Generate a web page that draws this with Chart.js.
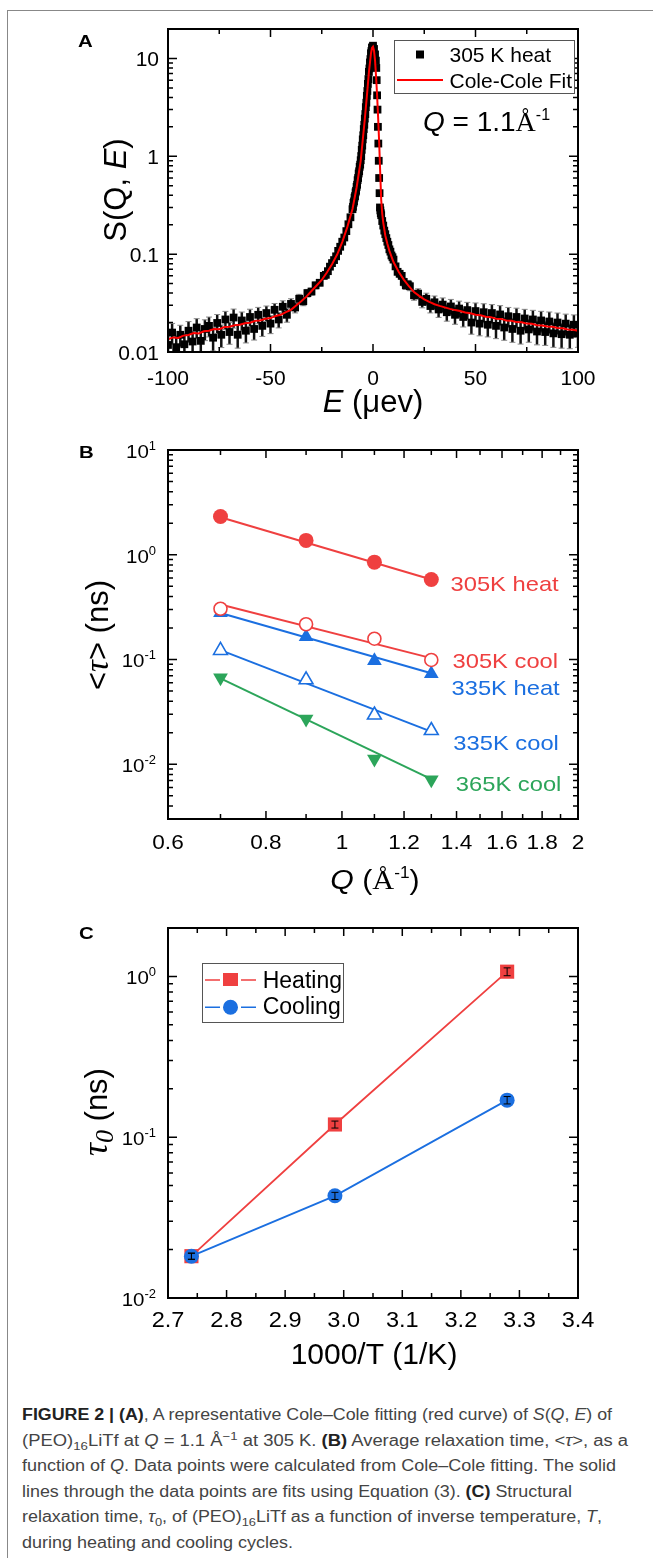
<!DOCTYPE html>
<html>
<head>
<meta charset="utf-8">
<script src="https://cdn.jsdelivr.net/npm/chart.js@4.4.1/dist/chart.umd.min.js"></script>
<style>
  body { margin: 0; background: #fff; width: 657px; height: 1558px; position: relative; overflow: hidden; }
  canvas { position: absolute; left: 0; }
  #lineL { position: absolute; left: 7px; top: 10px; width: 1px; height: 1548px; background: #888; }
  #lineT { position: absolute; left: 7px; top: 10px; width: 646px; height: 1px; background: #888; }
  #caption { position: absolute; left: 22px; top: 1402px; font: 16px 'Liberation Sans', Arial, sans-serif; line-height: 25.5px; color: #444; }
  #caption .ln { display: block; width: max-content; white-space: nowrap; transform-origin: 0 0; }
  #caption b { color: #222; }
  #caption sub, #caption sup { font-size: 0.72em; line-height: 0; }
</style>
</head>
<body>
<div id="lineL"></div>
<div id="lineT"></div>
<canvas id="chartA" width="657" height="430" style="top:0"></canvas>
<canvas id="chartB" width="657" height="480" style="top:430px"></canvas>
<canvas id="chartC" width="657" height="480" style="top:910px"></canvas>
<div id="caption">
  <span class="ln"><b>FIGURE 2 | (A)</b>, A representative Cole–Cole fitting (red curve) of <i>S</i>(<i>Q</i>, <i>E</i>) of</span>
  <span class="ln">(PEO)<sub>16</sub>LiTf at <i>Q</i> = 1.1 Å<sup>−1</sup> at 305 K. <b>(B)</b> Average relaxation time, &lt;<i>τ</i>&gt;, as a</span>
  <span class="ln">function of <i>Q</i>. Data points were calculated from Cole–Cole fitting. The solid</span>
  <span class="ln">lines through the data points are fits using Equation (3). <b>(C)</b> Structural</span>
  <span class="ln">relaxation time, <i>τ</i><sub>0</sub>, of (PEO)<sub>16</sub>LiTf as a function of inverse temperature, <i>T</i>,</span>
  <span class="ln">during heating and cooling cycles.</span>
</div>
<script>
// ---------- panel A: S(Q,E) at Q = 1.1 1/A, 305 K heat ----------
const specE = [
  -100, -98, -96, -94, -92, -90, -88, -86, -84, -82, -80, -78, -76, -74, -72, -70, -68, -66, -64, -62,
  -60, -58, -56, -54, -52, -50, -48, -46, -44, -42, -40, -38, -36, -34, -32, -30, -28, -26,
  -24, -23, -22, -21, -20, -19, -18, -17, -16, -15, -14, -13, -12, -11, -10,
  -9.75, -9.5, -9.25, -9, -8.75, -8.5, -8.25, -8, -7.75, -7.5, -7.25, -7, -6.75, -6.5, -6.25, -6,
  -5.75, -5.5, -5.25, -5, -4.75, -4.5, -4.25, -4, -3.75, -3.5, -3.25, -3, -2.75, -2.5, -2.25, -2,
  -1.75, -1.5, -1.25, -1, -0.75, -0.5, -0.25, 0, 0.5, 1,
  1.4, 1.6, 1.8, 2.0, 2.2, 2.4, 2.6, 2.8, 3.0, 3.2, 3.4,
  3.6, 3.8, 4, 4.5, 5, 5.5, 6, 6.5, 7, 7.5, 8, 8.5, 9, 9.5,
  10, 11, 12, 13, 14, 15, 16, 17,
  18, 20, 22, 24, 26, 28, 30, 32, 34, 36, 38, 40, 42, 44, 46, 48, 50, 52, 54, 56,
  58, 60, 62, 64, 66, 68, 70, 72, 74, 76, 78, 80, 82, 84, 86, 88, 90, 92, 94, 96, 98, 100
];
const specS = [
  0.0118, 0.0158, 0.0112, 0.0150, 0.0120, 0.0165, 0.0128, 0.0178, 0.0130, 0.0172, 0.0185, 0.0140, 0.0198, 0.0150, 0.0215, 0.0160, 0.0225, 0.0150, 0.0210, 0.0165,
  0.0228, 0.0172, 0.0240, 0.0185, 0.0250, 0.0195, 0.0270, 0.0215, 0.0290, 0.0240, 0.0310, 0.0285, 0.0350, 0.0330, 0.0400, 0.0415, 0.0480, 0.0510,
  0.0600, 0.0615, 0.0670, 0.0745, 0.0810, 0.0870, 0.0950, 0.108, 0.119, 0.134, 0.148, 0.172, 0.202, 0.238, 0.288,
  0.305, 0.334, 0.346, 0.378, 0.392, 0.428, 0.444, 0.487, 0.512, 0.570, 0.600, 0.667, 0.703, 0.781, 0.822, 0.912,
  1.005, 1.165, 1.285, 1.49, 1.64, 1.90, 2.10, 2.43, 2.70, 3.18, 3.53, 4.15, 4.65, 5.50, 6.15, 7.30,
  7.90, 9.10, 9.85, 11.3, 11.9, 12.9, 13.0, 13.5, 12.5, 11.0,
  9.5, 8.0, 6.0, 4.2, 3.0, 2.0, 1.35, 0.90, 0.60, 0.42, 0.30,
  0.280, 0.262, 0.250, 0.218, 0.196, 0.174, 0.160, 0.146, 0.134, 0.124, 0.112, 0.106, 0.097, 0.093,
  0.088, 0.075, 0.066, 0.063, 0.060, 0.052, 0.048, 0.049,
  0.047, 0.038, 0.0395, 0.0325, 0.0350, 0.0295, 0.0322, 0.0272, 0.0305, 0.0255, 0.0292, 0.0240, 0.0278, 0.0228, 0.0268, 0.0200, 0.0262, 0.0195, 0.0255, 0.0190,
  0.0250, 0.0185, 0.0242, 0.0178, 0.0232, 0.0172, 0.0228, 0.0165, 0.0220, 0.0170, 0.0215, 0.0162, 0.0210, 0.0160, 0.0205, 0.0155, 0.0200, 0.0152, 0.0195, 0.0150, 0.0190, 0.0155
];
// relative error of each point
const specErr = [
  0.28, 0.24, 0.30, 0.25, 0.28, 0.24, 0.27, 0.23, 0.28, 0.24, 0.23, 0.27, 0.22, 0.26, 0.21, 0.25, 0.22, 0.27, 0.22, 0.25,
  0.20, 0.23, 0.19, 0.22, 0.18, 0.21, 0.16, 0.18, 0.15, 0.16, 0.13, 0.12, 0.11, 0.10, 0.09, 0.08, 0.08, 0.07,
  0.07, 0.07, 0.06, 0.06, 0.06, 0.05, 0.05, 0.05, 0.05, 0.05, 0.05, 0.04, 0.04, 0.04, 0.04,
  0.03, 0.03, 0.03, 0.03, 0.03, 0.03, 0.03, 0.03, 0.03, 0.03, 0.03, 0.03, 0.03, 0.03, 0.03, 0.03,
  0.03, 0.03, 0.03, 0.03, 0.03, 0.03, 0.03, 0.03, 0.03, 0.03, 0.03, 0.03, 0.03, 0.03, 0.03, 0.03,
  0.03, 0.03, 0.03, 0.03, 0.03, 0.03, 0.03, 0.03, 0.03, 0.03,
  0.03, 0.03, 0.03, 0.03, 0.03, 0.03, 0.03, 0.03, 0.03, 0.03, 0.03,
  0.04, 0.04, 0.04, 0.04, 0.04, 0.05, 0.05, 0.05, 0.05, 0.06, 0.06, 0.06, 0.06, 0.06,
  0.07, 0.07, 0.07, 0.08, 0.08, 0.09, 0.09, 0.10,
  0.10, 0.11, 0.12, 0.13, 0.14, 0.15, 0.16, 0.17, 0.17, 0.19, 0.18, 0.20, 0.19, 0.21, 0.20, 0.24, 0.21, 0.25, 0.22, 0.25,
  0.22, 0.26, 0.23, 0.26, 0.23, 0.27, 0.23, 0.27, 0.24, 0.26, 0.24, 0.27, 0.24, 0.27, 0.25, 0.28, 0.25, 0.28, 0.25, 0.28, 0.26, 0.28
];
const fitE = [
  -100, -97.5, -95, -92.5, -90, -87.5, -85, -82.5, -80, -77.5, -75, -72.5, -70, -67.5, -65, -62.5, -60, -57.5, -55, -52.5,
  -50, -47.5, -45, -42.5, -40, -37.5, -35, -32.5, -30, -27.5, -25, -22.5, -20, -17.5, -15, -12.5, -10, -8, -6, -4,
  -3, -2, -1, -0.5, 0, 0.5, 1, 1.5, 2, 2.5, 3, 3.5, 4, 4.5, 5, 6, 7, 8, 10, 12.5,
  15, 17.5, 20, 22.5, 25, 27.5, 30, 32.5, 35, 37.5, 40, 42.5, 45, 47.5, 50, 52.5, 55, 57.5, 60, 62.5,
  65, 67.5, 70, 72.5, 75, 77.5, 80, 82.5, 85, 87.5, 90, 92.5, 95, 97.5, 100
];
const fitS = [
  0.0135, 0.0141, 0.0139, 0.0147, 0.0149, 0.0156, 0.0155, 0.0163, 0.0165, 0.0172, 0.0171, 0.0180, 0.0181, 0.0188, 0.0190, 0.0197, 0.0199, 0.0208, 0.0210, 0.0219,
  0.0222, 0.0233, 0.0240, 0.0256, 0.0270, 0.0298, 0.0330, 0.0368, 0.0420, 0.0478, 0.0545, 0.0650, 0.0790, 0.0990, 0.133, 0.190, 0.290, 0.480, 0.900, 2.40,
  4.10, 7.20, 11.2, 12.8, 13.2, 12.0, 9.5, 6.5, 4.2, 2.5, 1.4, 0.70, 0.36, 0.26, 0.21, 0.155, 0.128, 0.108, 0.083, 0.066,
  0.055, 0.047, 0.041, 0.0375, 0.0345, 0.0325, 0.0308, 0.0296, 0.0286, 0.0276, 0.0268, 0.0262, 0.0253, 0.0249, 0.0240, 0.0237, 0.0229, 0.0227, 0.0219, 0.0218,
  0.0210, 0.0209, 0.0202, 0.0201, 0.0195, 0.0194, 0.0188, 0.0187, 0.0182, 0.0181, 0.0176, 0.0175, 0.0170, 0.0169, 0.0165
];
const aXTicks = [-100, -50, 0, 50, 100];
const aXMinor = [-75, -25, 25, 75];
const aYTicks = [0.01, 0.1, 1, 10];
const aYLabels = ['0.01', '0.1', '1', '10'];

// ---------- panel B: <tau> vs Q ----------
const qValues = [0.7, 0.9, 1.1, 1.3];
const tau305heat = [2.32, 1.37, 0.85, 0.58];
const tau305cool = [0.305, 0.217, 0.158, 0.099];
const tau335heat = [0.28, 0.165, 0.097, 0.073];
const tau335cool = [0.122, 0.064, 0.0295, 0.021];
const tau365cool = [0.067, 0.027, 0.0112, 0.0071];
const qFit = [0.7, 1.3];
const fit305heat = [2.28, 0.58];
const fit305cool = [0.335, 0.103];
const fit335heat = [0.278, 0.074];
const fit335cool = [0.123, 0.0205];
const fit365cool = [0.066, 0.0072];
const bXTicks = [0.6, 0.8, 1, 1.2, 1.4, 1.6, 1.8, 2];
const bXLabels = ['0.6', '0.8', '1', '1.2', '1.4', '1.6', '1.8', '2'];
const bXMinor = [0.7, 0.9, 1.1, 1.3, 1.5, 1.7, 1.9];
const bYTicks = [0.01, 0.1, 1, 10];
const bYExp = ['-2', '-1', '0', '1'];

// ---------- panel C: tau0 vs 1000/T ----------
const invT = [2.740, 2.985, 3.279];
const tauHeat = [0.0182, 0.120, 1.07];
const tauHeatErr = [0.0008, 0.006, 0.06];
const tauCool = [0.0182, 0.0432, 0.170];
const tauCoolErr = [0.0008, 0.0022, 0.009];
const cXTicks = [2.7, 2.8, 2.9, 3.0, 3.1, 3.2, 3.3, 3.4];
const cXLabels = ['2.7', '2.8', '2.9', '3.0', '3.1', '3.2', '3.3', '3.4'];
const cXMinor = [2.75, 2.85, 2.95, 3.05, 3.15, 3.25, 3.35];
const cYTicks = [0.01, 0.1, 1];
const cYExp = ['-2', '-1', '0'];

const RED = '#ef4040';
const BLUE = '#1b6fe0';
const GREEN = '#2ca55a';
const SANS = "'Liberation Sans', Arial, Helvetica, sans-serif";
const SERIF = "'Liberation Serif', 'Times New Roman', serif";
const fnt = (size, style) => (style ? style + ' ' : '') + size + 'px ' + SANS;
const sfnt = (size, style) => (style ? style + ' ' : '') + size + 'px ' + SERIF;

const pts = (xs, ys) => xs.map((x, i) => ({ x: x, y: ys[i] }));

function logMinor(lo, hi) {
  const out = [];
  for (let e = Math.floor(Math.log10(lo)); e <= Math.ceil(Math.log10(hi)); e++) {
    for (let m = 2; m <= 9; m++) {
      const v = m * Math.pow(10, e);
      if (v > lo && v < hi) out.push(v);
    }
  }
  return out;
}

// text made of runs with different fonts; y is the baseline
function drawRich(ctx, runs, x, y, o) {
  o = o || {};
  ctx.save();
  ctx.translate(x, y);
  if (o.rotate) ctx.rotate(-Math.PI / 2);
  if (o.sx) ctx.scale(o.sx, 1);
  let total = 0;
  runs.forEach(r => { ctx.font = r.font; r.w = ctx.measureText(r.t).width; total += r.w; });
  let cx = o.align === 'left' ? 0 : o.align === 'right' ? -total : -total / 2;
  ctx.textBaseline = 'alphabetic';
  ctx.textAlign = 'left';
  runs.forEach(r => {
    ctx.font = r.font;
    ctx.fillStyle = r.color || o.color || '#000';
    ctx.fillText(r.t, cx, r.dy || 0);
    cx += r.w;
  });
  ctx.restore();
}

function drawFrame(chart, t) {
  const { ctx, chartArea: a } = chart;
  const xs = chart.scales.x, ys = chart.scales.y;
  ctx.save();
  ctx.strokeStyle = '#000';
  ctx.lineWidth = 1.5;
  ctx.beginPath();
  const xt = (list, len) => list.forEach(v => {
    const p = xs.getPixelForValue(v);
    ctx.moveTo(p, a.bottom); ctx.lineTo(p, a.bottom - len);
    ctx.moveTo(p, a.top); ctx.lineTo(p, a.top + len);
  });
  const yt = (list, len) => list.forEach(v => {
    const p = ys.getPixelForValue(v);
    ctx.moveTo(a.left, p); ctx.lineTo(a.left + len, p);
    ctx.moveTo(a.right, p); ctx.lineTo(a.right - len, p);
  });
  xt(t.xMajor, 8); xt(t.xMinor, 5);
  yt(t.yMajor, 9); yt(t.yMinor, 5);
  ctx.stroke();
  ctx.lineWidth = 2;
  ctx.strokeRect(a.left, a.top, a.right - a.left, a.bottom - a.top);
  ctx.restore();
}

function xLabels(chart, vals, labels, font, baseline, sx) {
  vals.forEach((v, i) => drawRich(chart.ctx, [{ t: labels[i], font: font }], chart.scales.x.getPixelForValue(v), baseline, { sx: sx }));
}

function powLabels(chart, vals, exps, right, sx) {
  vals.forEach((v, i) => {
    const p = chart.scales.y.getPixelForValue(v);
    drawRich(chart.ctx, [{ t: '10', font: fnt(19) }, { t: exps[i], font: fnt(12), dy: -8 }], right, p + 8, { align: 'right', sx: sx });
  });
}

// vertical error bars: stem colour, cap colour, stem width, cap width
function errorBars(chart, xv, yv, lo, hi, stem, capColor, stemW, capW, clip) {
  const { ctx, chartArea: a } = chart;
  const xs = chart.scales.x, ys = chart.scales.y;
  ctx.save();
  if (clip) { ctx.beginPath(); ctx.rect(a.left, a.top, a.right - a.left, a.bottom - a.top); ctx.clip(); }
  const segs = xv.map((x, i) => [xs.getPixelForValue(x), ys.getPixelForValue(lo[i]), ys.getPixelForValue(hi[i])]);
  ctx.strokeStyle = stem;
  ctx.lineWidth = stemW;
  ctx.beginPath();
  segs.forEach(([px, p1, p2]) => { ctx.moveTo(px, p1); ctx.lineTo(px, p2); });
  ctx.stroke();
  ctx.strokeStyle = capColor;
  ctx.lineWidth = 1;
  ctx.beginPath();
  segs.forEach(([px, p1, p2]) => {
    ctx.moveTo(px - capW / 2, p1); ctx.lineTo(px + capW / 2, p1);
    ctx.moveTo(px - capW / 2, p2); ctx.lineTo(px + capW / 2, p2);
  });
  ctx.stroke();
  ctx.restore();
}

function baseOptions(padTop, xAxis, yAxis, xHeight) {
  return {
    responsive: false,
    animation: false,
    events: [],
    layout: { padding: { left: 0, right: 79, top: padTop, bottom: 0 } },
    plugins: { legend: { display: false }, tooltip: { enabled: false } },
    scales: {
      x: Object.assign({
        grid: { display: false }, border: { display: false }, ticks: { display: false },
        afterFit: s => { s.height = xHeight; }
      }, xAxis),
      y: Object.assign({
        grid: { display: false }, border: { display: false }, ticks: { display: false },
        afterFit: s => { s.width = 168; }
      }, yAxis)
    }
  };
}

// ---------- chart A ----------
const panelA = {
  id: 'panelA',
  beforeDatasetsDraw(chart) {
    errorBars(chart, specE, specS, specS.map((v, i) => v * (1 - specErr[i])), specS.map((v, i) => v * (1 + specErr[i])), '#111', '#888', 2.5, 6, true);
  },
  afterDraw(chart) {
    const ctx = chart.ctx;
    drawFrame(chart, { xMajor: aXTicks, xMinor: aXMinor, yMajor: aYTicks, yMinor: logMinor(0.01, 20) });
    xLabels(chart, aXTicks, aXTicks.map(String), fnt(21), 385);
    aYTicks.forEach((v, i) => drawRich(ctx, [{ t: aYLabels[i], font: fnt(21) }], 159, chart.scales.y.getPixelForValue(v) + 7.5, { align: 'right' }));
    // legend
    ctx.save();
    ctx.fillStyle = '#fff';
    ctx.fillRect(394, 40, 181, 54);
    ctx.strokeStyle = '#555';
    ctx.lineWidth = 1;
    ctx.strokeRect(394.5, 40.5, 180, 53);
    ctx.fillStyle = '#000';
    ctx.fillRect(416, 50.5, 8, 8);
    ctx.strokeStyle = '#f00';
    ctx.lineWidth = 2;
    ctx.beginPath(); ctx.moveTo(397, 80); ctx.lineTo(443, 80); ctx.stroke();
    ctx.restore();
    drawRich(ctx, [{ t: '305 K heat', font: fnt(21) }], 449.5, 61.5, { align: 'left' });
    drawRich(ctx, [{ t: 'Cole-Cole Fit', font: fnt(21) }], 449.5, 87.5, { align: 'left' });
    drawRich(ctx, [{ t: 'Q', font: fnt(28, 'italic') }, { t: ' = 1.1', font: fnt(28) }, { t: 'Å', font: sfnt(28) }, { t: '-1', font: fnt(16), dy: -11 }], 423, 131, { align: 'left' });
    // axis titles and panel letter
    drawRich(ctx, [{ t: 'S(Q, ', font: fnt(31) }, { t: 'E', font: fnt(31, 'italic') }, { t: ')', font: fnt(31) }], 126, 190, { rotate: true });
    drawRich(ctx, [{ t: 'E', font: fnt(31, 'italic') }, { t: ' (μev)', font: fnt(31) }], 373, 412);
    drawRich(ctx, [{ t: 'A', font: fnt(17, 'bold') }], 78, 46.7, { align: 'left', sx: 1.2 });
  }
};

const optA = baseOptions(29,
  { type: 'linear', min: -100, max: 100 },
  { type: 'logarithmic', min: 0.01, max: 20 }, 78);
new Chart(document.getElementById('chartA'), {
  type: 'scatter',
  data: {
    datasets: [
      { label: 'Cole-Cole Fit', data: pts(fitE, fitS), showLine: true, borderColor: '#f00', borderWidth: 2, pointRadius: 0, clip: 0 },
      { label: '305 K heat', data: pts(specE, specS), pointStyle: 'rect', pointRadius: 5.5, borderWidth: 0, backgroundColor: '#000', borderColor: '#000', clip: 0 }
    ]
  },
  options: optA,
  plugins: [panelA]
});

// ---------- chart B ----------
const bLabels = [
  { t: '305K heat', color: RED, x: 450.5, y: 160.7 },
  { t: '305K cool', color: RED, x: 452.5, y: 238.3 },
  { t: '335K heat', color: BLUE, x: 451.5, y: 265 },
  { t: '335K cool', color: BLUE, x: 453.3, y: 320 },
  { t: '365K cool', color: GREEN, x: 455.8, y: 361 }
];
const panelB = {
  id: 'panelB',
  afterDraw(chart) {
    const ctx = chart.ctx;
    drawFrame(chart, { xMajor: bXTicks, xMinor: bXMinor, yMajor: bYTicks, yMinor: logMinor(0.003, 10) });
    xLabels(chart, bXTicks, bXLabels, fnt(20), 419.3, 1.13);
    powLabels(chart, bYTicks, bYExp, 156, 1.08);
    bLabels.forEach(l => drawRich(ctx, [{ t: l.t, font: fnt(21) }], l.x, l.y, { align: 'left', color: l.color, sx: 1.13 }));
    drawRich(ctx, [{ t: '<', font: fnt(31) }, { t: 'τ', font: sfnt(33, 'italic') }, { t: '> (ns)', font: fnt(31) }], 108, 205, { rotate: true });
    drawRich(ctx, [{ t: 'Q', font: fnt(28, 'italic') }, { t: ' (', font: fnt(28) }, { t: 'Å', font: sfnt(28) }, { t: '-1', font: fnt(16), dy: -11 }, { t: ')', font: fnt(28) }], 375, 459, { sx: 1.08 });
    drawRich(ctx, [{ t: 'B', font: fnt(17, 'bold') }], 79, 27.7, { align: 'left', sx: 1.2 });
  }
};
const optB = baseOptions(20,
  { type: 'logarithmic', min: 0.6, max: 2 },
  { type: 'logarithmic', min: 0.003, max: 10 }, 91);
const fitLine = (ys, color) => ({ data: pts(qFit, ys), showLine: true, borderColor: color, borderWidth: 2, pointRadius: 0 });
new Chart(document.getElementById('chartB'), {
  type: 'scatter',
  data: {
    datasets: [
      { label: '305K heat', data: pts(qValues, tau305heat), pointStyle: 'circle', pointRadius: 7.5, backgroundColor: RED, borderColor: RED, borderWidth: 0 },
      { label: '305K cool', data: pts(qValues, tau305cool), pointStyle: 'circle', pointRadius: 6.5, backgroundColor: '#fff', borderColor: RED, borderWidth: 1.6 },
      { label: '335K heat', data: pts(qValues, tau335heat), pointStyle: 'triangle', pointRadius: 8.5, backgroundColor: BLUE, borderColor: BLUE, borderWidth: 0 },
      { label: '335K cool', data: pts(qValues, tau335cool), pointStyle: 'triangle', pointRadius: 8, backgroundColor: '#fff', borderColor: BLUE, borderWidth: 1.6 },
      { label: '365K cool', data: pts(qValues, tau365cool), pointStyle: 'triangle', rotation: 180, pointRadius: 8.5, backgroundColor: GREEN, borderColor: GREEN, borderWidth: 0 },
      fitLine(fit305heat, RED),
      fitLine(fit305cool, RED),
      fitLine(fit335heat, BLUE),
      fitLine(fit335cool, BLUE),
      fitLine(fit365cool, GREEN)
    ]
  },
  options: optB,
  plugins: [panelB]
});

// ---------- chart C ----------
const panelC = {
  id: 'panelC',
  afterDatasetsDraw(chart) {
    errorBars(chart, invT, tauHeat, tauHeat.map((v, i) => v - tauHeatErr[i]), tauHeat.map((v, i) => v + tauHeatErr[i]), '#000', '#000', 1, 7, false);
    errorBars(chart, invT, tauCool, tauCool.map((v, i) => v - tauCoolErr[i]), tauCool.map((v, i) => v + tauCoolErr[i]), '#000', '#000', 1, 7, false);
  },
  afterDraw(chart) {
    const ctx = chart.ctx;
    drawFrame(chart, { xMajor: cXTicks, xMinor: cXMinor, yMajor: cYTicks, yMinor: logMinor(0.01, 2) });
    xLabels(chart, cXTicks, cXLabels, fnt(22), 417.3, 1.07);
    powLabels(chart, cYTicks, cYExp, 156, 1.08);
    // legend
    ctx.save();
    ctx.fillStyle = '#fff';
    ctx.fillRect(202, 54, 141, 59);
    ctx.strokeStyle = '#555';
    ctx.lineWidth = 1;
    ctx.strokeRect(202.5, 53.5, 141, 59);
    ctx.lineWidth = 1.5;
    [[RED, 70], [BLUE, 97.3]].forEach(([c, y]) => {
      ctx.strokeStyle = c;
      ctx.beginPath();
      ctx.moveTo(205, y); ctx.lineTo(220, y);
      ctx.moveTo(241, y); ctx.lineTo(256, y);
      ctx.stroke();
    });
    ctx.fillStyle = RED;
    ctx.fillRect(223, 63, 15, 13);
    ctx.fillStyle = BLUE;
    ctx.beginPath(); ctx.arc(230.5, 97.3, 7.5, 0, Math.PI * 2); ctx.fill();
    ctx.restore();
    drawRich(ctx, [{ t: 'Heating', font: fnt(23) }], 262.7, 77.7, { align: 'left' });
    drawRich(ctx, [{ t: 'Cooling', font: fnt(23) }], 262.7, 104, { align: 'left' });
    // axis titles
    drawRich(ctx, [{ t: 'τ', font: sfnt(36, 'italic') }, { t: '0', font: sfnt(26, 'italic'), dy: 6 }, { t: ' (ns)', font: fnt(31) }], 107, 202, { rotate: true });
    drawRich(ctx, [{ t: '1000/T (1/K)', font: fnt(30) }], 374, 454);
    drawRich(ctx, [{ t: 'C', font: fnt(17, 'bold') }], 79, 29.3, { align: 'left', sx: 1.2 });
  }
};
const optC = baseOptions(18,
  { type: 'linear', min: 2.7, max: 3.4 },
  { type: 'logarithmic', min: 0.01, max: 2 }, 92);
new Chart(document.getElementById('chartC'), {
  type: 'scatter',
  data: {
    datasets: [
      { label: 'Cooling', data: pts(invT, tauCool), showLine: true, borderColor: BLUE, borderWidth: 1.8, pointStyle: 'circle', pointRadius: 7.5, backgroundColor: BLUE, pointBorderWidth: 0 },
      { label: 'Heating', data: pts(invT, tauHeat), showLine: true, borderColor: RED, borderWidth: 1.8, pointStyle: 'rect', pointRadius: 10, backgroundColor: RED, pointBorderWidth: 0 }
    ]
  },
  options: optC,
  plugins: [panelC]
});

// caption lines: match the printed line widths
const captionWidths = [590, 606, 594, 550, 580, 271];
document.querySelectorAll('#caption .ln').forEach((el, i) => {
  const w = el.getBoundingClientRect().width;
  el.style.transform = 'scaleX(' + (captionWidths[i] / w) + ')';
});
</script>
</body>
</html>
